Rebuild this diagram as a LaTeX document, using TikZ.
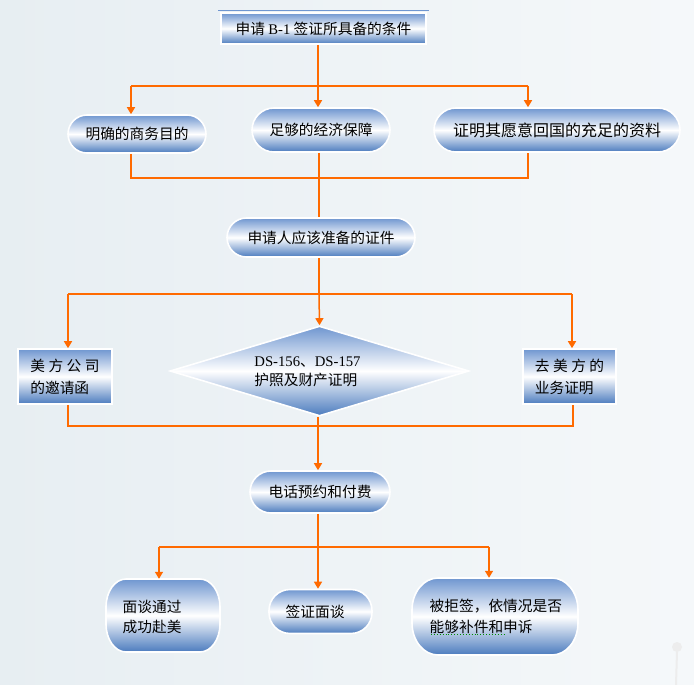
\documentclass[tikz,border=0pt]{standalone}
\usepackage{fontspec}
\setmainfont{Noto Sans CJK SC}
\newfontfamily\serifL{Liberation Serif}
\usetikzlibrary{arrows.meta,shapes.geometric,calc}
\definecolor{bgL}{HTML}{E7EEF2}
\definecolor{bgR}{HTML}{F5F8FA}
\definecolor{boxtop}{HTML}{6F96D0}
\definecolor{boxbot}{HTML}{4B7BBE}
\definecolor{lineor}{HTML}{FF6A00}
\begin{document}
\begin{tikzpicture}[x=1pt,y=-1pt,
  every node/.style={font=\fontsize{14.7}{22}\selectfont, text=black, inner sep=0pt},
  gbox/.style={draw=white, line width=1.6pt, top color=boxtop, bottom color=boxbot, middle color=white},
  rbox/.style={gbox, rectangle},
  pill/.style={gbox, rectangle, rounded corners=#1},
  link/.style={draw=lineor, line width=1.5pt},
  arr/.style={link, -{Triangle[width=8pt,length=7pt]}},
]
\useasboundingbox (0,0) rectangle (694,685);
\shade[left color=bgL, right color=bgR] (0,0) rectangle (694,685);
% faint lamp decoration
\fill[gray!14] (677,647) circle (5);
\draw[gray!14, line width=2pt] (677,652) -- (676,685);

% nodes
\node[rbox, minimum width=205pt, minimum height=31pt] (title) at (323.5,28.5)
  {申请 {\serifL B-1} 签证所具备的条件};
\draw[boxtop, line width=1pt] ($(title.north west)+(-2,-2)$) -- ($(title.north east)+(2,-2)$);

\node[pill=19pt, minimum width=138pt, minimum height=38pt] (n1) at (137,134) {明确的商务目的};
\node[pill=22pt, minimum width=138pt, minimum height=44pt] (n2) at (321,130) {足够的经济保障};
\node[pill=22pt, minimum width=246pt, minimum height=44pt, font=\fontsize{16}{20}\selectfont] (n3) at (557,130) {证明其愿意回国的充足的资料};
\node[pill=19.5pt, minimum width=188pt, minimum height=39pt] (n4) at (321,237.5) {申请人应该准备的证件};

\node[rbox, minimum width=94pt, minimum height=55pt, align=left] (L) at (65,376.5)
  {美\hspace{3.5pt}方\hspace{3.5pt}公\hspace{3.5pt}司\\的邀请函};
\node[rbox, minimum width=93pt, minimum height=55pt, align=left] (R) at (569.5,376.5)
  {去\hspace{3.5pt}美\hspace{3.5pt}方\hspace{3.5pt}的\\业务证明};
\node[gbox, diamond, aspect=3.3, minimum width=299pt, minimum height=90pt] (D) at (319.5,371) {};
\node[align=left, font=\fontsize{14.7}{19}\selectfont] (Dt) at (307.5,372)
  {{\serifL DS-156}、{\serifL DS-157}\\护照及财产证明};

\node[pill=21pt, minimum width=140pt, minimum height=42pt] (n5) at (320,492) {电话预约和付费};

% bottom row: boxes with elliptical corners
\path[gbox] (126,579) -- (200,579)
  arc[start angle=-90, end angle=0, x radius=20, y radius=28] -- (220,624)
  arc[start angle=0, end angle=90, x radius=20, y radius=28] -- (126,652)
  arc[start angle=90, end angle=180, x radius=20, y radius=28] -- (106,607)
  arc[start angle=180, end angle=270, x radius=20, y radius=28] -- cycle;
\node[minimum width=114pt, minimum height=73pt] (A) at (163,615.5) {};
\node[anchor=west, align=left, font=\fontsize{14.7}{20.5}\selectfont] (At) at (122.5,617) {面谈通过\\成功赴美};
\node[pill=21pt, minimum width=103pt, minimum height=44pt] (B) at (320.5,611.5) {};
\node[anchor=west] (Bt) at (285.5,612) {签证面谈};
\path[gbox] (438,578) -- (552,578)
  arc[start angle=-90, end angle=0, x radius=26, y radius=32] -- (578,623)
  arc[start angle=0, end angle=90, x radius=26, y radius=32] -- (438,655)
  arc[start angle=90, end angle=180, x radius=26, y radius=32] -- (412,610)
  arc[start angle=180, end angle=270, x radius=26, y radius=32] -- cycle;
\node[minimum width=166pt, minimum height=77pt] (C) at (495,616.5) {};
\node[anchor=west, align=left, font=\fontsize{14.7}{21.5}\selectfont] (Ct) at (429.5,616.5) {被拒签，依情况是否\\能够补件和申诉};
\draw[green!55!black, line width=0.9pt, dotted] (431,634) -- (505,634);

% connector coordinates
\coordinate (c1) at (318,86);
\coordinate (b1L) at (131,86);
\coordinate (b1R) at (528,86);
\coordinate (m1L) at (131,178);
\coordinate (m1R) at (528,178);
\coordinate (c2) at (319,178);
\coordinate (c3) at (319,294);
\coordinate (b3L) at (68,294);
\coordinate (b3R) at (572,294);
\coordinate (m3L) at (68,426);
\coordinate (m3R) at (573,426);
\coordinate (c4) at (318,426);
\coordinate (c5) at (318,547);
\coordinate (b5L) at (159,547);
\coordinate (b5R) at (489,547);

% connectors
\draw[link] (c1 |- title.south) -- (c1);
\draw[link] (b1L) -- (b1R);
\draw[arr] (b1L) -- (b1L |- n1.north);
\draw[arr] (c1) -- (c1 |- n2.north);
\draw[arr] (b1R) -- (b1R |- n3.north);
\draw[link] (b1L |- n1.south) -- (m1L) -- (m1R) -- (b1R |- n3.south);
\draw[link] (c2 |- n2.south) -- (c2 |- n4.north);

\draw[link] (c3 |- n4.south) -- (c3);
\draw[link] (b3L) -- (b3R);
\draw[arr] (b3L) -- (b3L |- L.north);
\draw[arr] (c3) -- (D.north);
\draw[arr] (b3R) -- (b3R |- R.north);
\draw[link] (b3L |- L.south) -- (m3L) -- (m3R) -- (m3R |- R.south);
\draw[arr] (D.south -| c4) -- (c4 |- n5.north);

\draw[link] (c5 |- n5.south) -- (c5);
\draw[link] (b5L) -- (b5R);
\draw[arr] (b5L) -- (b5L |- A.north);
\draw[arr] (c5) -- (c5 |- B.north);
\draw[arr] (b5R) -- (b5R |- C.north);
\end{tikzpicture}
\end{document}
